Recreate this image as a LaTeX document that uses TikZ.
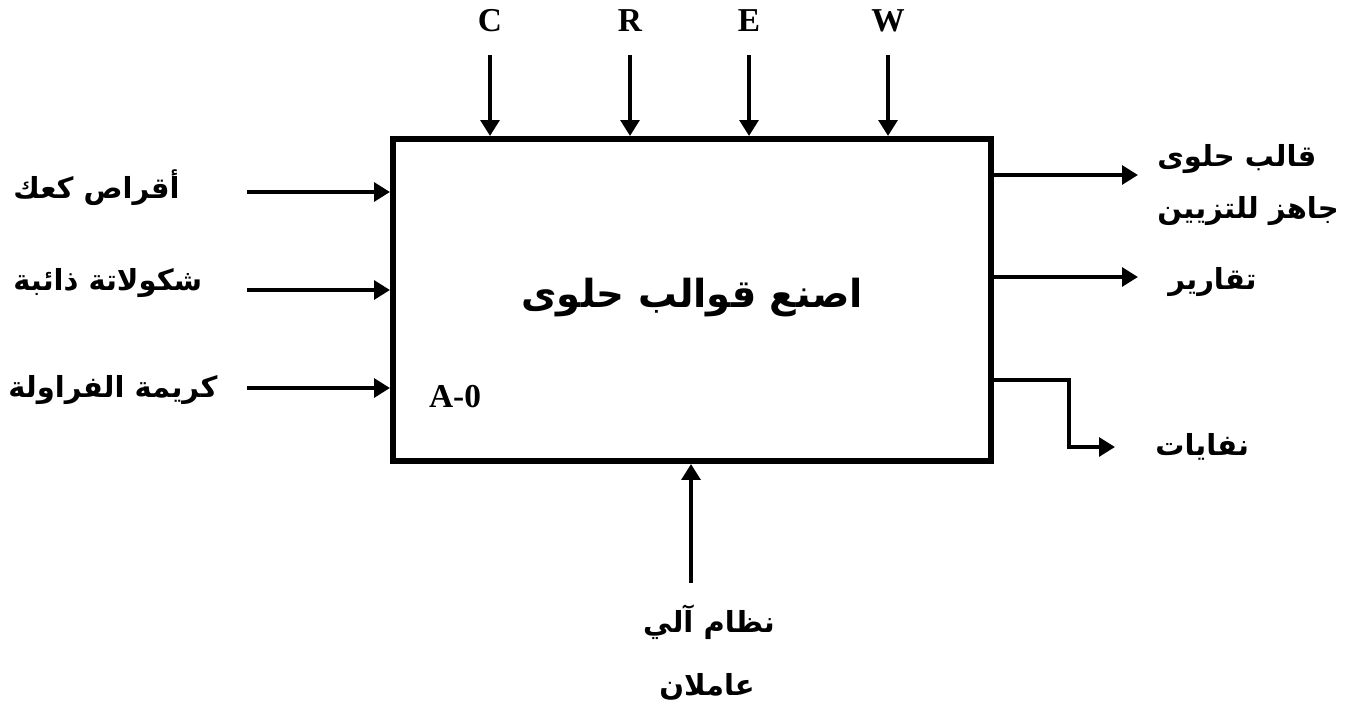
\documentclass[tikz,border=0pt]{standalone}
\usepackage{fontspec}
\setmainfont{Liberation Serif}
\newfontfamily\arabicfont[Script=Arabic]{DejaVu Sans}
\TeXXeTstate=1
\usetikzlibrary{calc,positioning,arrows.meta}
\newcommand{\artxt}[1]{{\arabicfont\bfseries\beginR #1\endR}}
\tikzset{line/.style={draw, line width=2.8pt, -{Triangle[length=9pt,width=10.5pt]}}}

\begin{document}
\begin{tikzpicture}
\tikzstyle{box} = [rectangle, draw, line width=3.4pt, minimum width=11.96cm, minimum height=6.44cm]
\tikzstyle{lbl} = [font=\fontsize{16.5}{29.5}\selectfont, inner sep=0pt, align=left]
\tikzstyle{ltr} = [font=\fontsize{19}{23}\selectfont\bfseries, inner sep=0pt]
\useasboundingbox (0,0) rectangle (26.94,14.18);

\node [box](act) at (13.84,8.18){};
\node [lbl, font=\fontsize{22}{27}\selectfont](title) at (13.84,8.22){\artxt{اصنع قوالب حلوى}};
\node [ltr](code) at ($(act.north west)+(1.3,-5.22)$){A-0};

% controls
\foreach \x/\c in {2.0/C,4.8/R,7.18/E,9.96/W}{
	\coordinate (top\c) at ($(act.north west)+(\x,1.62)$);
	\draw [line] (top\c) -- (top\c |- act.north);
	\node [ltr](lbl\c) at ($(top\c)+(0,0.68)$){\c};
}

% inputs
\foreach \y/\n in {1.12/1,3.08/2,5.04/3}{
	\coordinate (in\n) at ($(act.north west)+(-2.86,-\y)$);
	\draw [line] (in\n) -- (in\n -| act.west);
}
\node [lbl, anchor=west](inA) at (0.26,10.42){\artxt{أقراص كعك}};
\node [lbl, anchor=west](inB) at (0.26,8.52){\artxt{شكولاتة ذائبة}};
\node [lbl, anchor=west](inC) at (0.16,6.38){\artxt{كريمة الفراولة}};

% outputs
\coordinate (out1) at ($(act.north east)+(2.88,-0.78)$);
\coordinate (out2) at ($(act.north east)+(2.88,-2.82)$);
\coordinate (bend) at ($(act.north east)+(1.5,-4.88)$);
\coordinate (out3) at ($(act.north east)+(2.42,-6.22)$);
\draw [line] (out1 -| act.east) -- (out1);
\draw [line] (out2 -| act.east) -- (out2);
\draw [line] (bend -| act.east) -- (bend) |- (out3);
\node [lbl, anchor=west](outA) at (23.14,10.48){\artxt{قالب حلوى}\\\artxt{جاهز للتزيين}};
\node [lbl, anchor=west](outB) at (23.36,8.54){\artxt{تقارير}};
\node [lbl, anchor=west](outC) at (23.1,5.24){\artxt{نفايات}};

% mechanism
\coordinate (mech) at ($(act.south west)+(6.02,-2.38)$);
\draw [line] (mech) -- (mech |- act.south);
\node [lbl](mechA) at (14.18,1.74){\artxt{نظام آلي}};
\node [lbl](mechB) at (14.14,0.44){\artxt{عاملان}};

\end{tikzpicture}
\end{document}
